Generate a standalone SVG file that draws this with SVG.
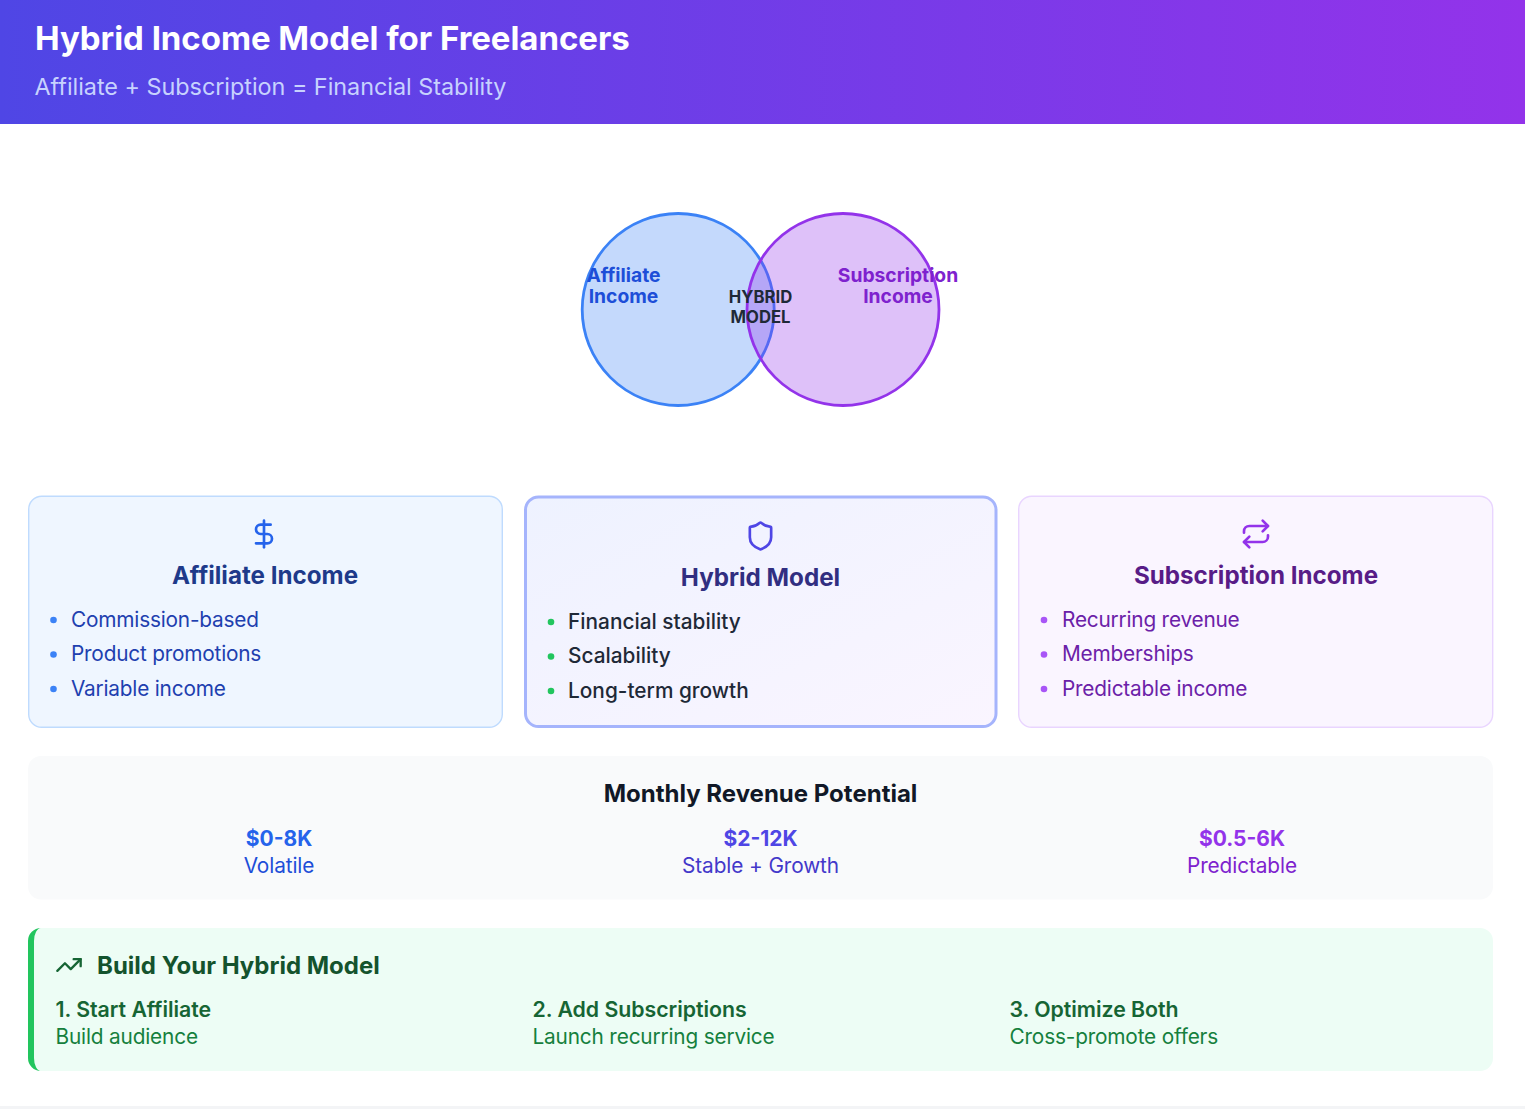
<svg xmlns="http://www.w3.org/2000/svg" width="1525" height="1109" viewBox="0 0 1525 1109">
<style>
text{font-family:Inter,"Noto Sans","Liberation Sans",sans-serif}
.b{font-weight:700}.s{font-weight:600}
.m{text-anchor:middle}
.ic{fill:none;stroke-width:2;stroke-linecap:round;stroke-linejoin:round}
.li{font-size:20.8px;letter-spacing:-.2px}
.lm{font-size:20.8px;font-weight:500;letter-spacing:.02px}
.ct{font-size:24.2px;font-weight:700;text-anchor:middle}
.rv{font-size:21px;font-weight:700;text-anchor:middle}
.rl{font-size:20.8px;letter-spacing:-.1px;text-anchor:middle}
.vn{font-size:19.3px;font-weight:700;text-anchor:middle}
.st{font-size:21.3px;font-weight:600;letter-spacing:-.03px;fill:#166534}
.sd{font-size:20.8px;letter-spacing:-.17px;fill:#15803d}
</style>
<defs>
<linearGradient id="hg" x1="0" y1="0" x2="1" y2="0"><stop offset="0" stop-color="#4f46e5"/><stop offset="1" stop-color="#9333ea"/></linearGradient>
<linearGradient id="mg" x1="0" y1="0" x2="1" y2="1"><stop offset="0" stop-color="#eef2ff"/><stop offset="1" stop-color="#faf5ff"/></linearGradient>
</defs>
<rect width="1525" height="1109" fill="#fff"/>
<g id="header">
<rect width="1525" height="124" fill="url(#hg)"/>
<text x="35" y="50" class="b" font-size="33" fill="#fff" letter-spacing="-.05">Hybrid Income Model for Freelancers</text>
<text x="34.500" y="95" font-size="23.4" fill="#c7d2fe" letter-spacing="-.03">Affiliate + Subscription = Financial Stability</text>
</g>
<g id="venn">
<circle cx="678.200" cy="309.500" r="96" fill="#3b82f6" fill-opacity=".3" stroke="#3b82f6" stroke-width="2.800"/>
<circle cx="843" cy="309.500" r="96" fill="#9333ea" fill-opacity=".3" stroke="#9333ea" stroke-width="2.800"/>
<text class="vn" x="623.500" y="282" fill="#1d4ed8">Affiliate</text>
<text class="vn" x="623.500" y="303" fill="#1d4ed8">Income</text>
<text class="vn" x="898" y="282" fill="#7e22ce">Subscription</text>
<text class="vn" x="898" y="303" fill="#7e22ce">Income</text>
<text x="760.500" y="303" class="m b" font-size="16.700" fill="#1f2937">HYBRID</text>
<text x="760.500" y="323" class="m b" font-size="16.700" fill="#1f2937">MODEL</text>
</g>
<g id="affiliate-card">
<rect x="28.700" y="496.200" width="473.600" height="231" rx="13" fill="#eff6ff" stroke="#bfdbfe" stroke-width="1.400"/>
<g transform="translate(248 518) scale(1.333)" class="ic" stroke="#2563eb"><path d="M12 2V22"/><path d="M17 5H9.500a3.500 3.500 0 0 0 0 7h5a3.500 3.500 0 0 1 0 7H6"/></g>
<text x="265" y="584" class="ct" fill="#1e3a8a">Affiliate Income</text>
<g fill="#3b82f6"><circle cx="53.500" cy="620" r="3.300"/><circle cx="53.500" cy="654.500" r="3.300"/><circle cx="53.500" cy="689" r="3.300"/></g>
<g class="li" fill="#1e40af"><text x="71" y="627">Commission-based</text><text x="71" y="661">Product promotions</text><text x="71" y="696">Variable income</text></g>
</g>
<g id="hybrid-card">
<rect x="525.500" y="497" width="470.500" height="229.500" rx="13" fill="url(#mg)" stroke="#a5b4fc" stroke-width="3"/>
<g transform="translate(744.500 520) scale(1.333)" class="ic" stroke="#4f46e5"><path d="M20 13c0 5-3.500 7.500-7.660 8.950a1 1 0 0 1-.67-.01C7.500 20.500 4 18 4 13V6a1 1 0 0 1 1-1c2 0 4.500-1.200 6.240-2.720a1.170 1.170 0 0 1 1.520 0C14.510 3.810 17 5 19 5a1 1 0 0 1 1 1z"/></g>
<text x="760.500" y="586" class="ct" fill="#312e81">Hybrid Model</text>
<g fill="#22c55e"><circle cx="551" cy="622" r="3.300"/><circle cx="551" cy="656.500" r="3.300"/><circle cx="551" cy="691" r="3.300"/></g>
<g class="lm" fill="#1f2937"><text x="568" y="629">Financial stability</text><text x="568" y="663">Scalability</text><text x="568" y="697.500">Long-term growth</text></g>
</g>
<g id="subscription-card">
<rect x="1018.700" y="496.200" width="474" height="231" rx="13" fill="#faf5ff" stroke="#e9d5ff" stroke-width="1.400"/>
<g transform="translate(1240 518) scale(1.333)" class="ic" stroke="#9333ea"><path d="m17 2 4 4-4 4"/><path d="M3 11v-1a4 4 0 0 1 4-4h14"/><path d="m7 22-4-4 4-4"/><path d="M21 13v1a4 4 0 0 1-4 4H3"/></g>
<text x="1256" y="584" class="ct" fill="#581c87">Subscription Income</text>
<g fill="#a855f7"><circle cx="1044" cy="620" r="3.300"/><circle cx="1044" cy="654.500" r="3.300"/><circle cx="1044" cy="689" r="3.300"/></g>
<g class="li" fill="#6b21a8"><text x="1062" y="627">Recurring revenue</text><text x="1062" y="661">Memberships</text><text x="1062" y="696">Predictable income</text></g>
</g>
<g id="revenue">
<rect x="28" y="756" width="1465" height="143.500" rx="13" fill="#f9fafb"/>
<text x="760.500" y="802" class="m b" font-size="24" fill="#111827">Monthly Revenue Potential</text>
<text x="279" y="845.500" class="rv" fill="#2563eb">$0-8K</text><text x="279" y="873" class="rl" fill="#1d4ed8">Volatile</text>
<text x="760.500" y="845.500" class="rv" fill="#4f46e5">$2-12K</text><text x="760.500" y="873" class="rl" fill="#4338ca">Stable + Growth</text>
<text x="1242" y="845.500" class="rv" fill="#9333ea">$0.5-6K</text><text x="1242" y="873" class="rl" fill="#7e22ce">Predictable</text>
</g>
<g id="steps">
<path d="M41 928H1480a13 13 0 0 1 13 13V1058a13 13 0 0 1-13 13H41a13 13 0 0 1-13-13V941a13 13 0 0 1 13-13z" fill="#edfdf5"/>
<path d="M41 928a13 13 0 0 0-13 13V1058a13 13 0 0 0 13 13a7 13 0 0 1-7-13V941a7 13 0 0 1 7-13z" fill="#22c55e"/>
<g transform="translate(55 951) scale(1.167)" class="ic" stroke="#166534"><polyline points="22 7 13.500 15.500 8.500 10.500 2 17"/><polyline points="16 7 22 7 22 13"/></g>
<text x="97" y="974" class="b" font-size="24" fill="#14532d">Build Your Hybrid Model</text>
<text x="55.500" y="1017" class="st">1. Start Affiliate</text><text x="55.500" y="1044" class="sd">Build audience</text>
<text x="532.500" y="1017" class="st">2. Add Subscriptions</text><text x="532.500" y="1044" class="sd">Launch recurring service</text>
<text x="1009.500" y="1017" class="st">3. Optimize Both</text><text x="1009.500" y="1044" class="sd">Cross-promote offers</text>
</g>
<rect id="footer-line" y="1106" width="1525" height="3" fill="#f3f4f6"/>
</svg>
